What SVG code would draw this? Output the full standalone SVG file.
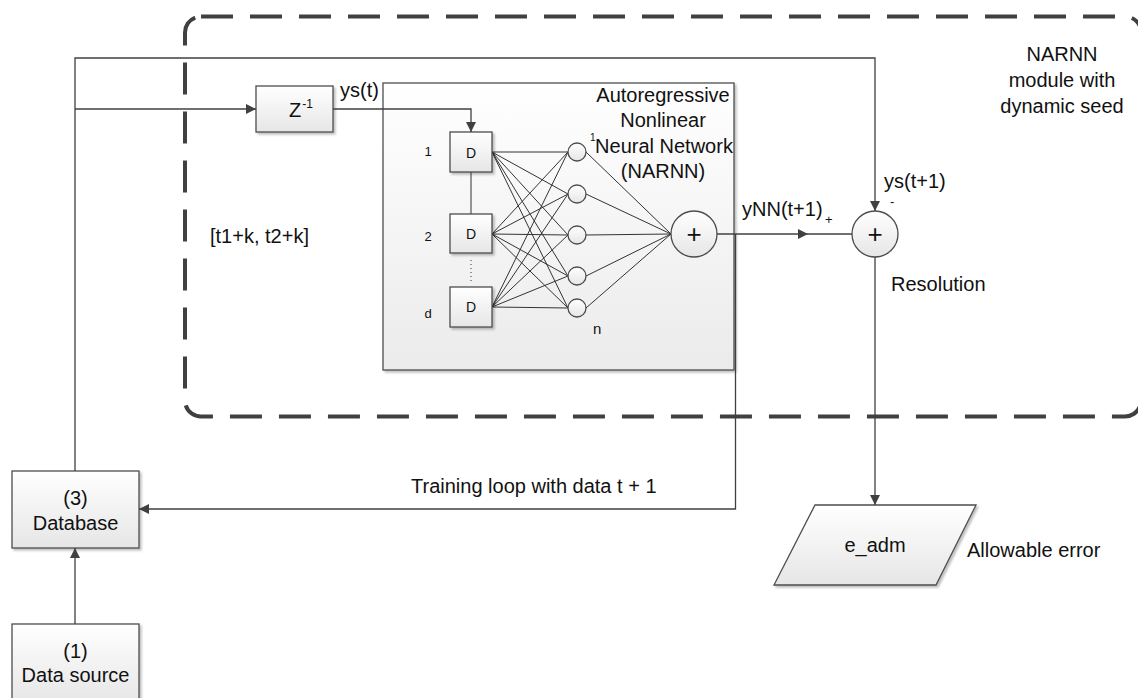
<svg xmlns="http://www.w3.org/2000/svg" width="1138" height="698" viewBox="0 0 1138 698">
  <defs>
    <linearGradient id="boxFill" x1="0" y1="0" x2="0" y2="1">
      <stop offset="0" stop-color="#ffffff"/>
      <stop offset="1" stop-color="#e6e6e6"/>
    </linearGradient>
    <linearGradient id="panelFill" x1="0" y1="0" x2="0" y2="1">
      <stop offset="0" stop-color="#ffffff"/>
      <stop offset="1" stop-color="#ebebeb"/>
    </linearGradient>
    <filter id="shadow" x="-10%" y="-10%" width="130%" height="130%">
      <feDropShadow dx="2" dy="2" stdDeviation="1.2" flood-color="#000" flood-opacity="0.25"/>
    </filter>
    <marker id="arrow" viewBox="0 0 10 10" refX="10" refY="5" markerWidth="10" markerHeight="10" markerUnits="userSpaceOnUse" orient="auto">
      <path d="M0,0 L10,5 L0,10 z" fill="#404040"/>
    </marker>
  </defs>
  <style>
    .box { fill: url(#boxFill); stroke: #4d4d4d; stroke-width: 1.3; filter: url(#shadow); }
    .panel { fill: url(#panelFill); stroke: #4d4d4d; stroke-width: 1.3; filter: url(#shadow); }
    .circ { fill: url(#boxFill); stroke: #4d4d4d; stroke-width: 1.3; }
    .wire { fill: none; stroke: #404040; stroke-width: 1.3; }
    .net { fill: none; stroke: #333; stroke-width: 1; }
    .t { font-family: "Liberation Sans", Arial, sans-serif; font-size: 20px; fill: #111; }
    .c { text-anchor: middle; }
    .s { font-size: 13px; }
    .plus { font-size: 26px; }
  </style>

  <rect width="1138" height="698" fill="#ffffff"/>

  <!-- dashed module boundary -->
  <rect x="185" y="16.5" width="956" height="400" rx="16" fill="none" stroke="#404040" stroke-width="4" stroke-dasharray="32 17"/>

  <!-- NARNN panel -->
  <g id="narnn">
    <rect class="panel" x="383" y="83" width="351" height="287"/>
    <text class="t c" x="663" y="101.5">Autoregressive</text>
    <text class="t c" x="663" y="127">Nonlinear</text>
    <text class="t c" x="664" y="152.5">Neural Network</text>
    <text class="t c" x="663" y="178">(NARNN)</text>
  </g>

  <!-- network wiring inside the panel -->
  <g id="net-wires" class="net">
    <!-- inputs to hidden layer -->
    <path d="M492,152 L568,152 M492,152 L568,194 M492,152 L568,235 M492,152 L568,276 M492,152 L568,308"/>
    <path d="M492,234 L568,152 M492,234 L568,194 M492,234 L568,235 M492,234 L568,276 M492,234 L568,308"/>
    <path d="M492,307 L568,152 M492,307 L568,194 M492,307 L568,235 M492,307 L568,276 M492,307 L568,308"/>
    <!-- hidden layer to output sum -->
    <path d="M586,152 L671,234 M586,194 L671,234 M586,235 L671,234 M586,276 L671,234 M586,308 L671,234"/>
    <!-- delay chain -->
    <path d="M471,172 L471,214"/>
    <path d="M471,260 L471,284" stroke-dasharray="1 3"/>
  </g>

  <g id="delay-1">
    <rect class="box" x="450" y="132" width="42" height="40"/>
    <text class="t c" x="471" y="158" style="font-size:14px">D</text>
    <text class="t c s" x="428" y="156">1</text>
  </g>
  <g id="delay-2">
    <rect class="box" x="450" y="214" width="42" height="39"/>
    <text class="t c" x="471" y="239" style="font-size:14px">D</text>
    <text class="t c s" x="428" y="241">2</text>
  </g>
  <g id="delay-d">
    <rect class="box" x="450" y="287" width="42" height="40"/>
    <text class="t c" x="471" y="312" style="font-size:14px">D</text>
    <text class="t c s" x="428" y="318">d</text>
  </g>

  <g id="hidden-layer">
    <circle class="circ" cx="577" cy="152" r="9"/>
    <circle class="circ" cx="577" cy="194" r="9"/>
    <circle class="circ" cx="577" cy="235" r="9"/>
    <circle class="circ" cx="577" cy="276" r="9"/>
    <circle class="circ" cx="577" cy="308" r="9"/>
    <text class="t" x="590" y="141" style="font-size:10px">1</text>
    <text class="t" x="593" y="334" style="font-size:15px">n</text>
  </g>

  <g id="output-sum">
    <circle class="circ" cx="694" cy="234" r="23"/>
    <text class="t c plus" x="694" y="243">+</text>
  </g>

  <g id="delay-z">
    <rect class="box" x="256" y="86" width="77" height="46"/>
    <text class="t" x="289" y="117">Z<tspan dx="1" dy="-9" style="font-size:12px">-1</tspan></text>
  </g>

  <g id="error-sum">
    <circle class="circ" cx="875" cy="234" r="23"/>
    <text class="t c plus" x="875" y="243">+</text>
  </g>

  <g id="database">
    <rect class="box" x="12" y="471" width="127" height="77"/>
    <text class="t c" x="75.5" y="505">(3)</text>
    <text class="t c" x="75.5" y="530">Database</text>
  </g>

  <g id="data-source">
    <rect class="box" x="12" y="624" width="127" height="80"/>
    <text class="t c" x="75.5" y="658">(1)</text>
    <text class="t c" x="75.5" y="682">Data source</text>
  </g>

  <g id="allowable-error">
    <polygon class="box" points="815,505 976,505 936,585 774,585"/>
    <text class="t c" x="875" y="552">e_adm</text>
  </g>

  <!-- connectors -->
  <g id="connectors">
    <path class="wire" d="M75,471 L75,58 L875,58 L875,211" marker-end="url(#arrow)"/>
    <path class="wire" d="M75,109 L256,109" marker-end="url(#arrow)"/>
    <path class="wire" d="M333,109 L471,109 L471,132" marker-end="url(#arrow)"/>
    <path class="wire" d="M717,234 L808,234" marker-end="url(#arrow)"/>
    <path class="wire" d="M808,234 L852,234"/>
    <path class="wire" d="M735.5,234 L735.5,509 L139,509" marker-end="url(#arrow)"/>
    <path class="wire" d="M875,257 L875,505" marker-end="url(#arrow)"/>
    <path class="wire" d="M75,624 L75,548" marker-end="url(#arrow)"/>
  </g>

  <!-- free labels -->
  <g id="labels">
    <text class="t" x="340" y="97">ys(t)</text>
    <text class="t" x="210" y="243">[t1+k, t2+k]</text>
    <text class="t" x="742" y="216">yNN(t+1)</text>
    <text class="t s" x="825" y="224">+</text>
    <text class="t s" x="890" y="206">-</text>
    <text class="t" x="884" y="188">ys(t+1)</text>
    <text class="t" x="891" y="291">Resolution</text>
    <text class="t" x="411" y="493">Training loop with data t + 1</text>
    <text class="t" x="967" y="557">Allowable error</text>
    <text class="t c" x="1062" y="61">NARNN</text>
    <text class="t c" x="1062" y="87">module with</text>
    <text class="t c" x="1062" y="113">dynamic seed</text>
  </g>
</svg>
